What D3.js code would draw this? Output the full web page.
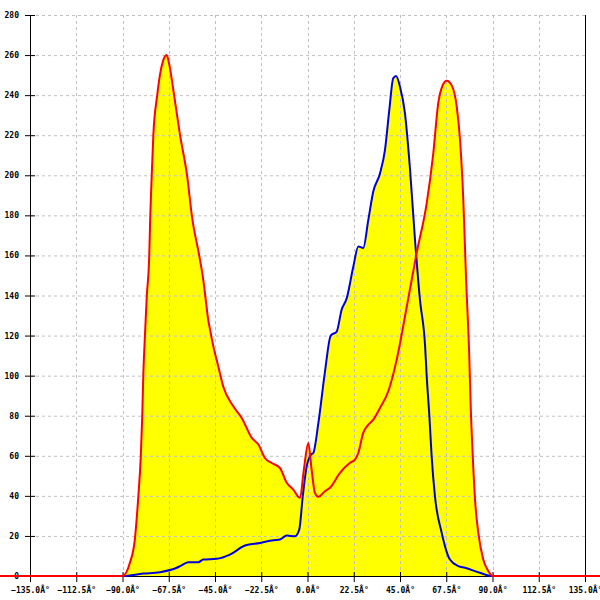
<!DOCTYPE html>
<html>
<head>
<meta charset="utf-8">
<script src="https://cdn.jsdelivr.net/npm/d3@7"></script>
<style>
  body { margin: 0; background: #fff; }
  svg { display: block; }
  .tick text { font-family: "DejaVu Sans Mono", monospace; font-size: 8px; font-weight: bold; fill: #000; }
</style>
</head>
<body>
<svg width="600" height="600"></svg>
<script>
// tick values
const xTicks = [-135, -112.5, -90, -67.5, -45, -22.5, 0, 22.5, 45, 67.5, 90, 112.5, 135];
const yTicks = [0, 20, 40, 60, 80, 100, 120, 140, 160, 180, 200, 220, 240, 260, 280];

// red series (filled yellow)
const redAngles = [-180, -90, -86.4, -84, -82.3, -81.1, -80.4, -79.9, -79.1, -78.2, -77, -76.5, -75.8, -75,
  -73.1, -71.8, -70.3, -68.5, -67.4, -64.9, -62, -58.5, -56.2, -52.6, -50.7, -49.7, -48.3, -47.4, -45.8,
  -43.4, -41, -36.1, -32, -27.1, -23.9, -20.7, -17.4, -13.4, -10.1, -6.9, -3.6, -1.9, 0.4, 2, 3.6, 5.3,
  8.5, 10.9, 15.8, 20.7, 23.1, 24.7, 27.1, 29.6, 32, 35.3, 39.3, 43.4, 48.3, 53.1, 58, 61.2, 63.6, 65.8,
  67.7, 70.1, 72.6, 74.2, 75.8, 77.1, 78.7, 79.4, 80.4, 81.5, 83.1, 85.5, 88, 90, 180];
const redValues = [0, 0, 6.6, 18.2, 39.8, 59.7, 79.7, 99.6, 119.6, 139.5, 159.5, 179.4, 199.3, 220,
  240, 250, 257, 260, 256, 240, 220, 199.3, 179.4, 159.5, 147.8, 139.6, 127.9, 122.9, 114.6,
  104.6, 94.6, 84.7, 78.9, 68.9, 65.6, 58.9, 56.4, 53.9, 46.5, 43.1, 39, 52, 66.4, 53.1, 41.5, 39.5,
  42.3, 44, 51.5, 56.5, 58.1, 61.4, 71.4, 75.5, 78, 83.9, 92.2, 108, 134.5, 161.2, 186.1, 211, 236, 245,
  247.2, 245, 234.3, 217.7, 187.7, 149.5, 109.6, 84.7, 59.7, 38.1, 21.5, 8.2, 2.4, 0, 0];

// blue series (filled yellow)
const blueAngles = [-180, -90, -79.9, -71.8, -63.6, -62, -58, -53.1, -50.7, -44.2, -37.7, -30.4, -23.1,
  -16.6, -13.4, -10.1, -6.1, -4, -2.3, -0.4, 1.7, 2.8, 5.3, 8.5, 11.3, 14.2, 16.6, 19.1, 22.3, 24.7, 27.1,
  29.6, 32, 35.3, 37.7, 39.8, 41.7, 43.1, 45, 47.4, 49.9, 52.3, 54.7, 57.2, 58, 59.3, 60.4, 62, 65.3,
  69.3, 73.4, 76.6, 83.9, 90, 180];
const blueValues = [0, 0, 1.2, 1.9, 4.1, 4.9, 6.9, 6.9, 8.2, 8.6, 10.7, 15.2, 16.5,
  17.9, 18.2, 20.2, 19.8, 23.2, 39.8, 54.7, 60.6, 61.4, 76.4, 102, 120, 122, 132.9, 138.7, 154.5, 164.5, 163.7,
  177.8, 191.9, 201, 212.7, 232.6, 248.4, 249.6, 244.2, 231, 202.7, 167.8, 137.9, 115, 99.6, 79.7, 59.7, 39.8, 21.5,
  8.2, 4.9, 4.1, 1.6, 0, 0];

const red = redAngles.map((a, i) => ({ a: a, v: redValues[i] }));
const blue = blueAngles.map((a, i) => ({ a: a, v: blueValues[i] }));

// plot box
const plotLeft = 30, plotRight = 585, plotTop = 15, plotBottom = 576;

const svg = d3.select("svg");

const x = d3.scaleLinear().domain([-135, 135]).range([plotLeft, plotRight]);
const y = d3.scaleLinear().domain([0, 280]).range([plotBottom, plotTop]);

const area = d3.area()
  .curve(d3.curveMonotoneX)
  .x(d => x(d.a))
  .y0(y(0))
  .y1(d => y(d.v));
const line = d3.line()
  .curve(d3.curveMonotoneX)
  .x(d => x(d.a))
  .y(d => y(d.v));

// yellow fills under both curves
svg.append("path").datum(red).attr("d", area).attr("fill", "#ffff00");
svg.append("path").datum(blue).attr("d", area).attr("fill", "#ffff00");

// dashed grid
svg.append("g")
  .selectAll("line")
  .data(yTicks)
  .enter()
  .append("line")
  .attr("x1", plotLeft).attr("x2", plotRight)
  .attr("y1", d => y(d) + 0.5).attr("y2", d => y(d) + 0.5)
  .attr("stroke", "#c0c0c0")
  .attr("stroke-dasharray", "3,3");
svg.append("g")
  .selectAll("line")
  .data(xTicks)
  .enter()
  .append("line")
  .attr("x1", d => Math.round(x(d)) + 0.5).attr("x2", d => Math.round(x(d)) + 0.5)
  .attr("y1", plotTop).attr("y2", plotBottom)
  .attr("stroke", "#c0c0c0")
  .attr("stroke-dasharray", "3,3");

// right border
svg.append("line")
  .attr("x1", plotRight + 0.5).attr("x2", plotRight + 0.5)
  .attr("y1", plotTop).attr("y2", plotBottom)
  .attr("stroke", "#000");

// axes
const xAxis = d3.axisBottom(x)
  .tickValues(xTicks)
  .tickSize(6)
  .tickPadding(5)
  .tickFormat(d => d3.format(".1f")(d) + "Â°");
const yAxis = d3.axisLeft(y)
  .tickValues(yTicks)
  .tickSize(5)
  .tickPadding(6)
  .tickFormat(d3.format("d"));

const gx = svg.append("g")
  .attr("transform", "translate(0," + plotBottom + ")")
  .call(xAxis);
gx.selectAll(".tick line").attr("y1", -4);
gx.select(".domain").attr("d", "M" + plotLeft + ",0.5H" + plotRight).attr("stroke", "#000");

const gy = svg.append("g")
  .attr("transform", "translate(" + plotLeft + ",0)")
  .call(yAxis);
gy.selectAll(".tick line").attr("x1", 5);
gy.select(".domain").attr("d", "M0.5," + plotTop + "V" + plotBottom).attr("stroke", "#000");
svg.selectAll(".tick text").style("font-family", "'DejaVu Sans Mono', monospace");

// curves
svg.append("path").datum(blue)
  .attr("d", line)
  .attr("fill", "none")
  .attr("stroke", "#0000dd")
  .attr("stroke-width", 2);
svg.append("path").datum(red)
  .attr("d", line)
  .attr("fill", "none")
  .attr("stroke", "#ff0000")
  .attr("stroke-width", 2);
</script>
</body>
</html>
